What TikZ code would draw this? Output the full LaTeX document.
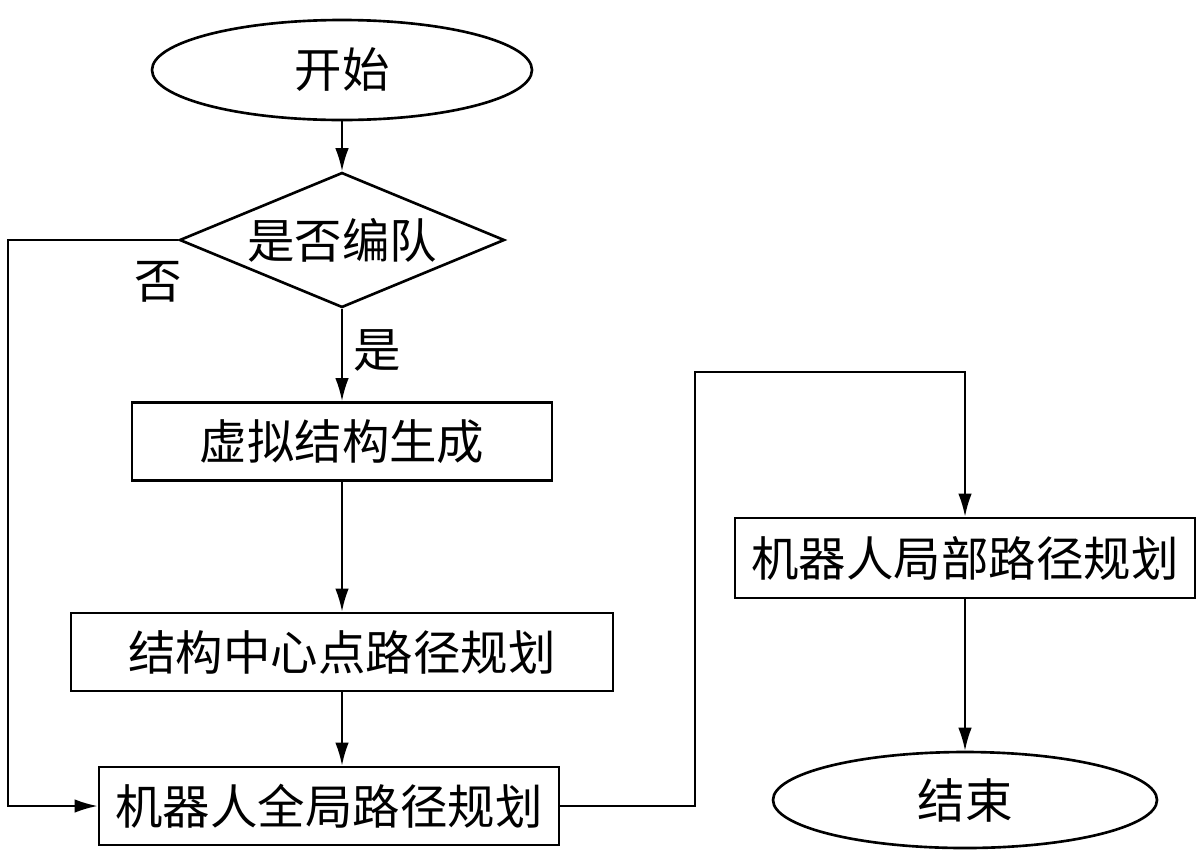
\documentclass[tikz,border=0pt]{standalone}
\usepackage{fontspec}
\setmainfont{Noto Sans CJK SC}
\usetikzlibrary{shapes.geometric, arrows.meta, positioning}
\tikzstyle{line} = [draw, line width=1.1pt, -{Latex[length=4.6mm,width=2.7mm]}]

\begin{document}
\begin{tikzpicture}[auto, node distance=3.4cm, every node/.style={font=\fontsize{27}{30}\selectfont}]
  % Define styles
  \tikzstyle{startstop} = [ellipse, minimum width=7.6cm, minimum height=2cm, text centered, draw=black, line width=1.5pt]
  \tikzstyle{process} = [rectangle, minimum width=9.2cm, minimum height=1.56cm, text centered, draw=black, line width=1.6pt]
  \tikzstyle{decision} = [diamond, aspect=2.4, inner sep=0pt, minimum width=6.5cm, minimum height=2.7cm, text centered, draw=black, line width=1.5pt]

  \useasboundingbox (0,0) rectangle (24,-17.14);

  % Place nodes
  \node [startstop] (start) at (6.84,-1.4) {开始};
  \node [decision, below of=start] (checkformation) {是否编队};
  \node [process, below of=checkformation, yshift=-0.63cm, minimum width=8.4cm] (virtualstruct) {虚拟结构生成};
  \node [process, below of=virtualstruct, yshift=-0.81cm, minimum width=10.84cm] (centerpath) {结构中心点路径规划};
  \node [process, below of=centerpath, yshift=0.32cm, xshift=-0.26cm] (globalpath) {机器人全局路径规划};
  \node [process, minimum height=1.6cm] (localpath) at (19.3,-11.16) {机器人局部路径规划};
  \node [startstop, below of=localpath, yshift=-1.44cm, minimum width=7.68cm, minimum height=1.92cm] (finish) {结束};
  \coordinate (leftturn) at (0.16,-4.8);
  \coordinate (rightturn) at (13.9,-7.44);

  % Draw edges
  \path [line] (start) -- (checkformation);
  \path [line] (checkformation) -- node[pos=0.45, anchor=west, xshift=0.1cm] {是} (virtualstruct);
  \path [line] (virtualstruct) -- (centerpath);
  \path [line] (centerpath.south) -- (centerpath.south |- globalpath.north);
  \path [line] (checkformation.west) -- node[pos=0.12, anchor=north, yshift=-0.3cm] {否} (leftturn) |- (globalpath.west);
  \path [line] (globalpath.east) -| (rightturn) -| (localpath.north);
  \path [line] (localpath) -- (finish);

\end{tikzpicture}
\end{document}
